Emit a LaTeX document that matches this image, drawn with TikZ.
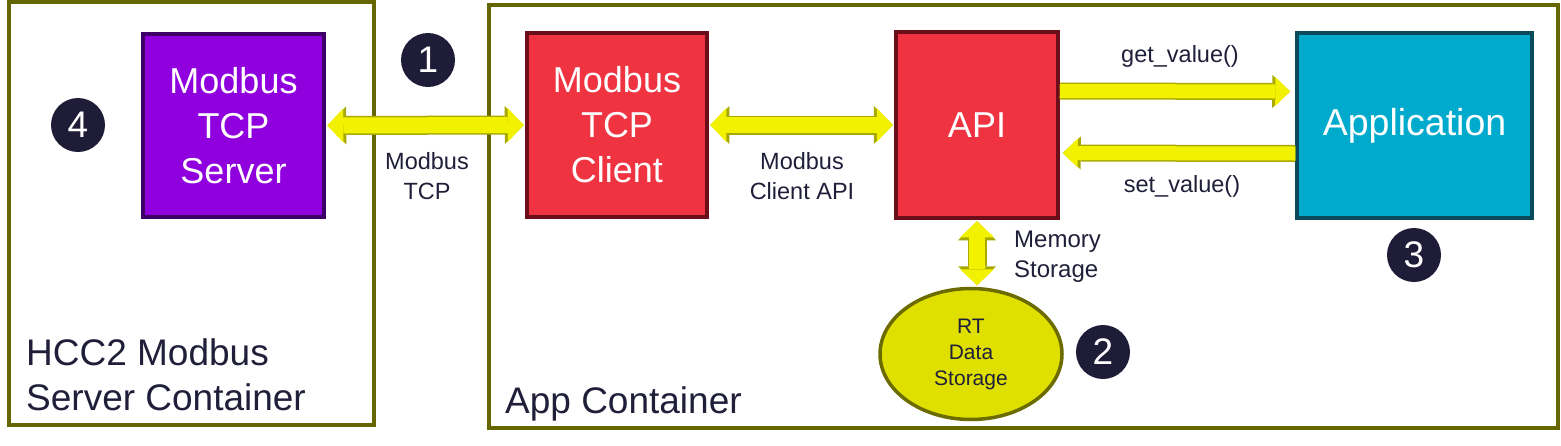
\documentclass[tikz,border=0pt]{standalone}
\usepackage{fontspec}
\setmainfont{Liberation Sans}
\usetikzlibrary{arrows.meta,shapes.geometric}
\definecolor{contolive}{HTML}{666600}
\definecolor{purplefill}{HTML}{9000DE}
\definecolor{purpleline}{HTML}{3D0066}
\definecolor{redfill}{HTML}{EF3340}
\definecolor{redline}{HTML}{6B0E1A}
\definecolor{cyanfill}{HTML}{00AACC}
\definecolor{cyanline}{HTML}{0A4A5A}
\definecolor{navy}{HTML}{1F1C38}
\definecolor{txt}{HTML}{1F1F3A}
\definecolor{ellfill}{HTML}{E0E000}
\definecolor{ellline}{HTML}{6B6B00}
\definecolor{ylw}{HTML}{F2F200}
\definecolor{ylwline}{HTML}{A8A800}
\begin{document}
\begin{tikzpicture}[x=1pt,y=-1pt,
  container/.style={draw=contolive, line width=3.5pt},
  blockbox/.style={draw, line width=3.5pt, text=white, align=center, inner sep=0pt,
    font=\fontsize{36}{45}\selectfont},
  numdot/.style={circle, fill=navy, text=white, minimum size=54pt, inner sep=0pt,
    font=\fontsize{37}{37}\selectfont},
  lbl/.style={text=txt, align=center, inner sep=0pt, font=\fontsize{23.5}{30}\selectfont},
  bigdbl/.style={line width=16pt, draw=ylw, shorten <=1.5pt, shorten >=1.5pt,
    {Triangle[width=34pt,length=16pt,line width=0pt]}-{Triangle[width=34pt,length=16pt,line width=0pt]},
    preaction={draw=ylwline, line width=19pt,
      {Triangle[width=38pt,length=19pt,line width=0pt]}-{Triangle[width=38pt,length=19pt,line width=0pt]}}},
  sglarr/.style={line width=14pt, draw=ylw, shorten >=1.5pt,
    -{Triangle[width=29pt,length=15pt,line width=0pt]},
    preaction={draw=ylwline, line width=17pt,
      -{Triangle[width=33pt,length=18pt,line width=0pt]}}}
]
\useasboundingbox (0,0) rectangle (1561,445);

% containers
\draw[container] (9,2) rectangle (374,425);
\draw[container] (489,5) rectangle (1558,428);
\node[text=txt, align=left, inner sep=0pt, anchor=west, font=\fontsize{37}{45}\selectfont]
  (hcclbl) at (26,375) {HCC2 Modbus\\Server Container};
\node[text=txt, inner sep=0pt, anchor=base west, font=\fontsize{37}{45}\selectfont]
  (applbl) at (505,413) {App Container};

% blocks
\node[blockbox, draw=purpleline, fill=purplefill, minimum width=181pt, minimum height=183pt]
  (srv) at (233.5,125.5) {Modbus\\TCP\\Server};
\node[blockbox, draw=redline, fill=redfill, minimum width=180pt, minimum height=184pt]
  (cli) at (617,125) {Modbus\\TCP\\Client};
\node[blockbox, draw=redline, fill=redfill, minimum width=162pt, minimum height=186pt]
  (api) at (977,125) {API};
\node[blockbox, draw=cyanline, fill=cyanfill, minimum width=235pt, minimum height=185pt,
  font=\fontsize{37.5}{45}\selectfont]
  (app) at (1414.5,125.5) {Application};
\node[ellipse, draw=ellline, line width=3.5pt, fill=ellfill, minimum width=182pt,
  minimum height=131pt, inner sep=0pt, text=txt, align=center,
  font=\fontsize{21}{26}\selectfont]
  (rt) at (971,354) {RT\\Data\\Storage};

% numbered markers
\node[numdot] (n1) at (428,60) {1};
\node[numdot] (n2) at (1103,352) {2};
\node[numdot] (n3) at (1414,255) {3};
\node[numdot] (n4) at (78,125) {4};

% connectors
\draw[bigdbl] (srv.east) -- (cli.west);
\draw[bigdbl] (cli.east) -- (api.west);
\draw[sglarr, shorten >=5pt] ([yshift=34pt]api.east) -- ([yshift=34pt]app.west);
\draw[sglarr, shorten >=3pt] ([yshift=-28pt]app.west) -- ([yshift=-28pt]api.east);
\draw[bigdbl] (api.south) -- (api.south |- rt.north);

% labels
\node[lbl] (lmtcp) at (427,176) {Modbus\\TCP};
\node[lbl] (lmapi) at (802,176) {Modbus\\Client API};
\node[lbl, anchor=base] (lget) at (1180,62) {get\_value()};
\node[lbl, anchor=base] (lset) at (1182,192) {set\_value()};
\node[lbl, align=left, anchor=west, font=\fontsize{24}{30}\selectfont] (lmem) at (1014,257) {Memory\\Storage};
\end{tikzpicture}
\end{document}
